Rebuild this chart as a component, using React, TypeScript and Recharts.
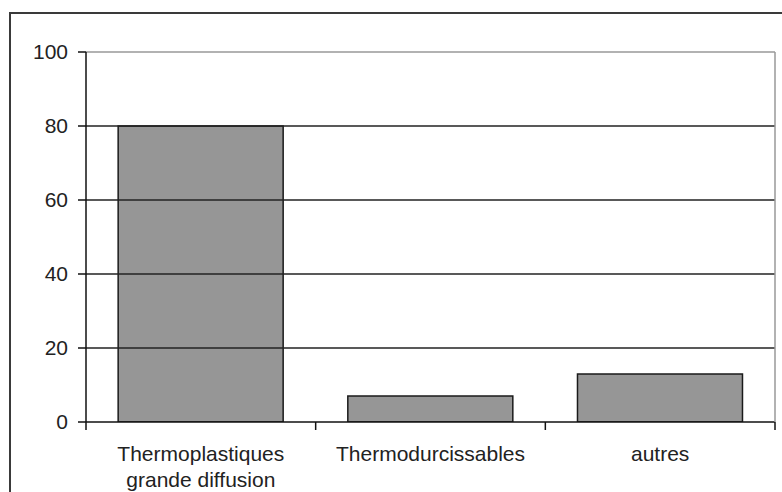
import React from "react";
import { BarChart, Bar, XAxis, YAxis, ReferenceLine } from "recharts";

const categories = ["Thermoplastiques\ngrande diffusion", "Thermodurcissables", "autres"];
const values = [80, 7, 13];
const yTicks = [0, 20, 40, 60, 80, 100];
const gridValues = [20, 40, 60, 80];

const data = categories.map((c, i) => ({ name: c, value: values[i] }));

const FONT = "'Liberation Sans', Arial, sans-serif";

const CatTick = (props: any) => {
  const { x, y, payload, index, visibleTicksCount } = props;
  const lines = String(payload.value).split("\n");
  const half = typeof payload.offset === "number" ? payload.offset : 0;
  const isLast = index === (visibleTicksCount ?? categories.length) - 1;
  return (
    <g>
      {half > 0 && (
        <line x1={x - half} x2={x - half} y1={y} y2={y + 8} stroke="#111" strokeWidth={1.5} />
      )}
      {half > 0 && isLast && (
        <line x1={x + half} x2={x + half} y1={y} y2={y + 8} stroke="#111" strokeWidth={1.5} />
      )}
      <text textAnchor="middle" fontFamily={FONT} fontSize={21} fill="#222">
        {lines.map((l: string, i: number) => (
          <tspan key={i} x={x} y={y + 39 + i * 26}>
            {l}
          </tspan>
        ))}
      </text>
    </g>
  );
};

export default function App() {
  return (
    <div
      style={{
        position: "absolute",
        left: 0,
        top: 0,
        width: 782,
        height: 492,
        overflow: "hidden",
        background: "#fff",
      }}
    >
      <div
        style={{
          position: "absolute",
          left: 9,
          top: 12,
          width: 820,
          height: 520,
          border: "2px solid #3a3a3a",
        }}
      />
      <div style={{ position: "absolute", left: 0, top: 0 }}>
        <BarChart
          width={782}
          height={492}
          data={data}
          margin={{ top: 52, right: 0, bottom: 0, left: 0 }}
          barCategoryGap="14%"
        >
          <XAxis
            dataKey="name"
            height={70}
            tickLine={false}
            tickSize={0}
            tickMargin={0}
            axisLine={{ stroke: "#111", strokeWidth: 1.5 }}
            tick={<CatTick />}
            interval={0}
          />
          <YAxis
            domain={[0, 100]}
            ticks={yTicks}
            width={86}
            tickSize={8}
            tickMargin={10}
            axisLine={{ stroke: "#111", strokeWidth: 1.5 }}
            tickLine={{ stroke: "#111", strokeWidth: 1.5 }}
            tick={{ fontFamily: FONT, fontSize: 21, fill: "#222" }}
            allowDataOverflow
          />
          <YAxis
            yAxisId="r"
            orientation="right"
            domain={[0, 100]}
            width={7}
            tick={false}
            tickLine={false}
            axisLine={{ stroke: "#999", strokeWidth: 1.5 }}
          />
          {gridValues.map((v) => (
            <ReferenceLine key={v} y={v} stroke="#222" strokeWidth={1.5} />
          ))}
          <ReferenceLine y={100} stroke="#999" strokeWidth={1.5} />
          <Bar
            dataKey="value"
            fill="#969696"
            stroke="#1a1a1a"
            strokeWidth={1.5}
            isAnimationActive={false}
          />
        </BarChart>
      </div>
    </div>
  );
}
